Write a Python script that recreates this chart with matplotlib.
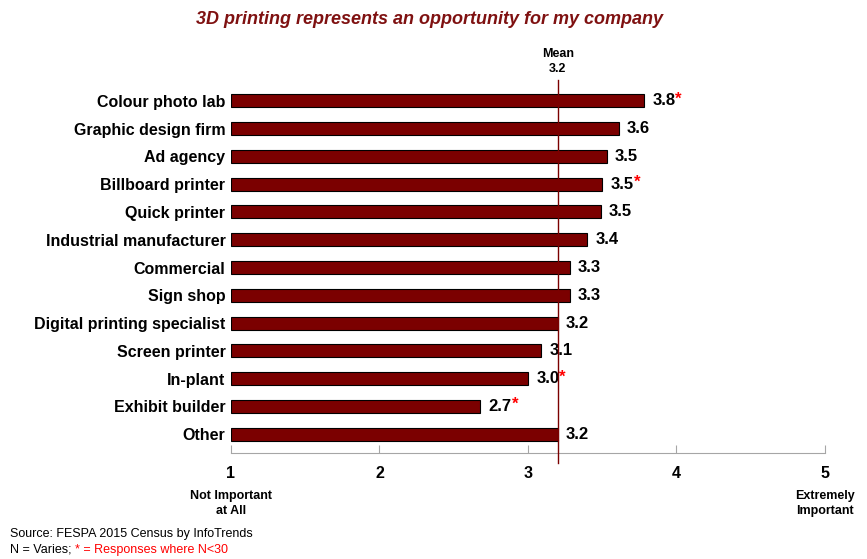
import matplotlib.pyplot as plt
import numpy as np

plt.rcParams['font.family'] = ['Liberation Sans', 'DejaVu Sans']

categories = ['Colour photo lab', 'Graphic design firm', 'Ad agency', 'Billboard printer',
              'Quick printer', 'Industrial manufacturer', 'Commercial', 'Sign shop',
              'Digital printing specialist', 'Screen printer', 'In-plant', 'Exhibit builder',
              'Other']
scores = [3.78, 3.61, 3.53, 3.50, 3.49, 3.40, 3.28, 3.28, 3.20, 3.09, 3.00, 2.68, 3.20]
labels = ['3.8', '3.6', '3.5', '3.5', '3.5', '3.4', '3.3', '3.3', '3.2', '3.1', '3.0', '2.7', '3.2']
small_n = [True, False, False, True, False, False, False, False, False, False, True, True, False]
mean_score = 3.2
ticks = [1, 2, 3, 4, 5]

bar_red = '#7B0000'

fig = plt.figure(figsize=(8.67, 5.59), dpi=100)
ax = fig.add_axes([231 / 867, 1 - 453 / 559, (825 - 231) / 867, (453 - 87) / 559])

y = np.arange(len(categories))
ax.barh(y, np.array(scores) - 1, left=1, height=0.47, color=bar_red,
        edgecolor='black', linewidth=0.8, zorder=2)

ax.set_xlim(1, 5)
ax.set_ylim(12.68, -0.5)
ax.set_yticks(y)
ax.set_yticklabels(categories, fontsize=11.5, fontweight='bold')
ax.tick_params(axis='y', length=0, pad=4)
ax.set_xticks(ticks)
ax.set_xticklabels([str(t) for t in ticks], fontsize=11.5, fontweight='bold')
ax.tick_params(axis='x', direction='in', length=6, color='#A6A6A6', pad=9)

for s in ['top', 'right', 'left']:
    ax.spines[s].set_visible(False)
ax.spines['bottom'].set_color('#A6A6A6')

# value labels, red asterisk where sample is small
for yi, v, lab, star in zip(y, scores, labels, small_n):
    t = ax.annotate(lab, (v, yi), xytext=(6, 0), textcoords='offset points',
                    va='center', ha='left', fontsize=12, fontweight='bold')
    if star:
        ax.annotate('*', xy=(1, 0.62), xycoords=t, va='center', ha='left',
                    fontsize=12, fontweight='bold', color='red')

# mean line
ax.plot([mean_score, mean_score], [-0.75, 13.04], color=bar_red, linewidth=1,
        clip_on=False, zorder=3)
ax.text(mean_score, -0.95, 'Mean\n' + str(mean_score), ha='center', va='bottom',
        fontsize=9, fontweight='bold', linespacing=1.3)

ax.text(1, 12.68 + 1.35, 'Not Important\nat All', ha='center', va='top', fontsize=9,
        fontweight='bold', linespacing=1.3)
ax.text(5, 12.68 + 1.35, 'Extremely\nImportant', ha='center', va='top', fontsize=9,
        fontweight='bold', linespacing=1.3)

fig.text(430 / 867, 1 - 20 / 559, '3D printing represents an opportunity for my company',
         ha='center', va='center', fontsize=13, fontweight='bold', fontstyle='italic',
         color='#7F1111')

fig.text(10 / 867, 1 - 534 / 559, 'Source: FESPA 2015 Census by InfoTrends', fontsize=9,
         va='center', ha='left')
note = fig.text(10 / 867, 1 - 550 / 559, 'N = Varies; ', fontsize=9, va='center', ha='left')
fig.add_artist(plt.Annotation('* = Responses where N<30', xy=(1, 0.5), xycoords=note,
                              va='center', ha='left', fontsize=9, color='red'))

fig.savefig('out.png', dpi=100)
